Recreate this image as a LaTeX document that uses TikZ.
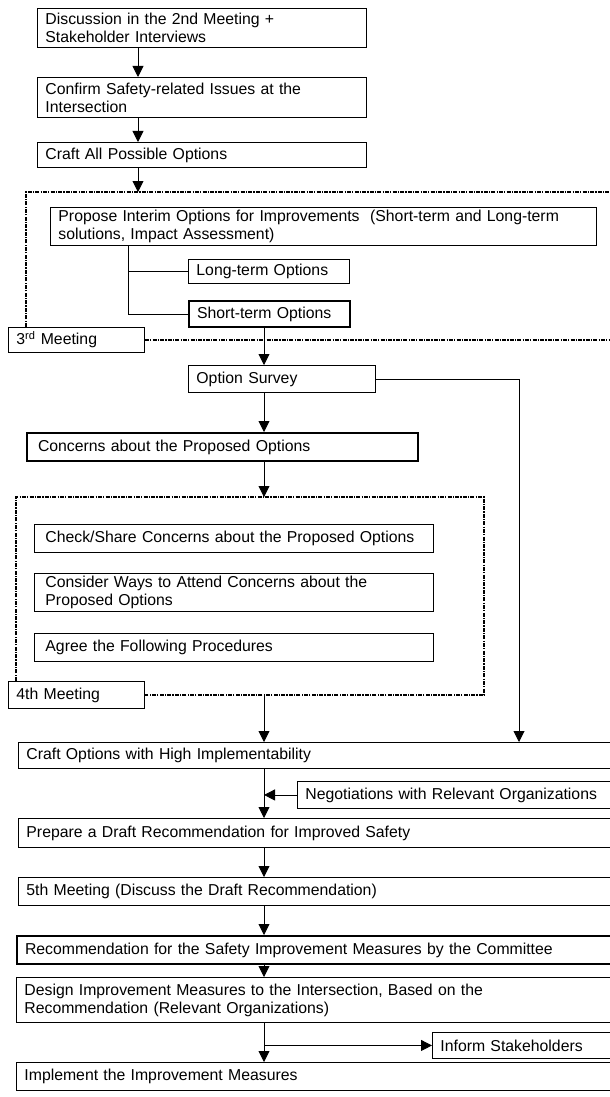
\documentclass[tikz,border=0pt]{standalone}
\usepackage{fontspec}
\setmainfont{Liberation Sans}
\usetikzlibrary{arrows.meta}
\begin{document}
\begin{tikzpicture}[x=1pt,y=-1pt,
  font=\fontsize{15.8}{18}\selectfont,
  box/.style={draw, line width=0.9pt, anchor=north west, align=left,
    inner xsep=8pt, inner ysep=0pt},
  heavy/.style={line width=2pt},
  link/.style={line width=0.9pt},
  arr/.style={line width=0.9pt, -{Triangle[width=11pt,length=11pt]}},
  frame/.style={line width=1.1pt, dash pattern=on 4pt off 1.2pt on 1.2pt off 1.2pt}]
\useasboundingbox (0,0) rectangle (610,1097);
\clip (0,0) rectangle (610,1097);

% guide columns for the connectors
\coordinate (cx) at (138,0);
\coordinate (cy) at (264,0);
\coordinate (tx) at (128,0);
\coordinate (rx) at (519,0);
\coordinate (f1) at (26,192);
\coordinate (f2) at (16,497);
\coordinate (f2r) at (484,497);

% opening steps
\node[box, text width=313pt, minimum height=39pt] (b1) at (37,8)
  {Discussion in the 2nd Meeting +\\Stakeholder Interviews};
\node[box, text width=313pt, minimum height=40pt] (b2) at (37,77)
  {Confirm Safety-related Issues at the\\Intersection};
\node[box, text width=313pt, minimum height=25pt] (b3) at (37,142)
  {Craft All Possible Options};

% third meeting
\node[box, text width=530pt, minimum height=38pt] (prop) at (50,207)
  {Propose Interim Options for Improvements~ (Short-term and Long-term\\solutions, Impact Assessment)};
\node[box, text width=145pt, minimum height=24pt] (long) at (188,259)
  {Long-term Options};
\node[box, heavy, text width=145pt, minimum height=26pt] (short) at (188,300)
  {Short-term Options};
\node[box, text width=120pt, minimum height=25pt] (m3) at (8,327)
  {3\textsuperscript{rd} Meeting};

\node[box, text width=171pt, minimum height=27pt] (surv) at (188,365)
  {Option Survey};
\node[box, heavy, text width=375pt, minimum height=28pt] (conc) at (26,432)
  {\hspace*{3pt}Concerns about the Proposed Options};

% fourth meeting
\node[box, text width=383pt, minimum height=28pt] (chk) at (34,524)
  {\hspace*{3pt}Check/Share Concerns about the Proposed Options};
\node[box, text width=383pt, minimum height=38pt] (cons) at (34,573)
  {\hspace*{3pt}Consider Ways to Attend Concerns about the\\\hspace*{3pt}Proposed Options};
\node[box, text width=383pt, minimum height=28pt] (agree) at (34,633)
  {\hspace*{3pt}Agree the Following Procedures};
\node[box, text width=120pt, minimum height=27pt] (m4) at (8,681)
  {4th Meeting};

% closing steps
\node[box, text width=604pt, minimum height=26pt] (craft) at (18,742)
  {Craft Options with High Implementability};
\node[box, text width=324pt, minimum height=27pt] (neg) at (297,781)
  {Negotiations with Relevant Organizations};
\node[box, text width=604pt, minimum height=29pt] (prep) at (18,818)
  {Prepare a Draft Recommendation for Improved Safety};
\node[box, text width=604pt, minimum height=28pt] (m5) at (18,877)
  {5th Meeting (Discuss the Draft Recommendation)};
\node[box, heavy, text width=604pt, minimum height=28pt] (rec) at (16,935)
  {Recommendation for the Safety Improvement Measures by the Committee};
\node[box, text width=604pt, minimum height=45pt] (des) at (16,977)
  {Design Improvement Measures to the Intersection, Based on the\\Recommendation (Relevant Organizations)};
\node[box, text width=184pt, minimum height=26pt] (inf) at (432,1032)
  {Inform Stakeholders};
\node[box, text width=604pt, minimum height=28pt] (impl) at (16,1062)
  {Implement the Improvement Measures};

% meeting frames
\draw[frame] (m3.north -| f1) -- (f1) -- (640,192);
\draw[frame] (m3.east) -- (640,0 |- m3.east);
\draw[frame] (m4.north -| f2) -- (f2) -- (f2r) -- (f2r |- m4.east) -- (m4.east);

% connectors
\draw[arr] (b1.south -| cx) -- (b2.north -| cx);
\draw[arr] (b2.south -| cx) -- (b3.north -| cx);
\draw[arr] (b3.south -| cx) -- (f1 -| cx);
\draw[link] (prop.south -| tx) |- (long.west);
\draw[link] (prop.south -| tx) |- (short.west);
\draw[arr] (short.south -| cy) -- (surv.north -| cy);
\draw[arr] (surv.south -| cy) -- (conc.north -| cy);
\draw[arr] (conc.south -| cy) -- (f2 -| cy);
\draw[arr] (m4.east -| cy) -- (craft.north -| cy);
\draw[arr] (surv.east) -| (craft.north -| rx);
\draw[arr] (craft.south -| cy) -- (prep.north -| cy);
\draw[arr] (neg.west) -- (neg.west -| cy);
\draw[arr] (prep.south -| cy) -- (m5.north -| cy);
\draw[arr] (m5.south -| cy) -- (rec.north -| cy);
\draw[arr] (rec.south -| cy) -- (des.north -| cy);
\draw[arr] (des.south -| cy) -- (impl.north -| cy);
\draw[arr] (inf.west -| cy) -- (inf.west);
\end{tikzpicture}
\end{document}
